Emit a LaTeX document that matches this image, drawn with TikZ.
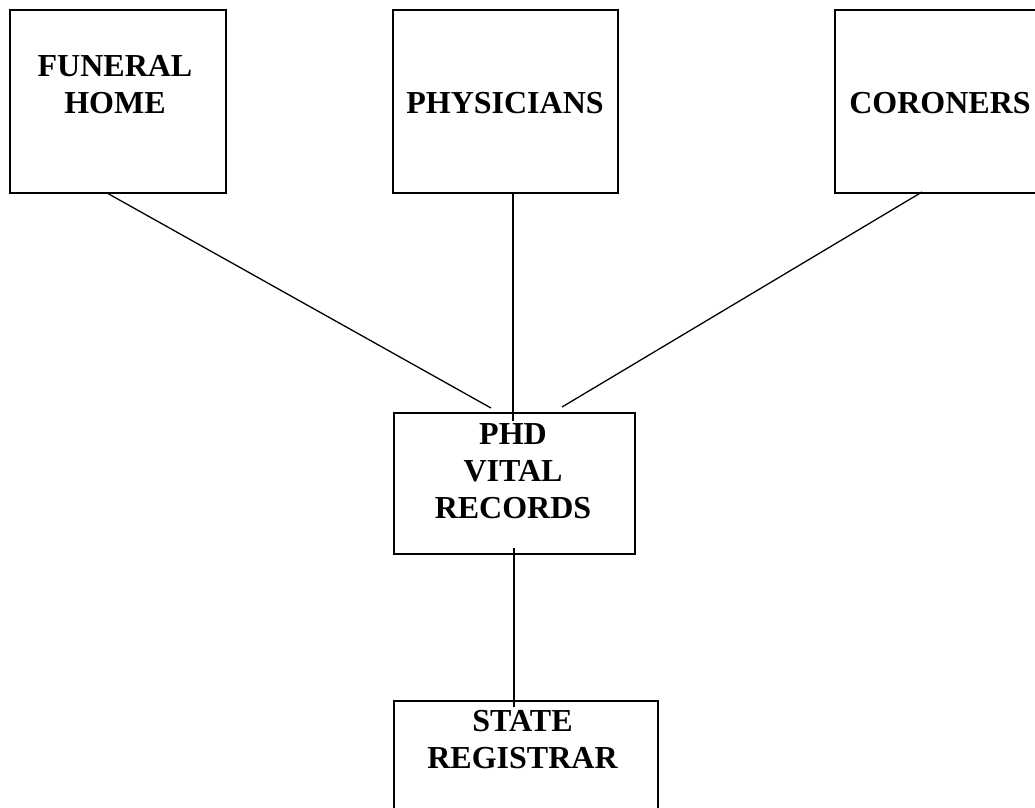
\documentclass[tikz,border=0pt]{standalone}
\usepackage{fontspec}
\setmainfont{Liberation Serif}
\begin{document}
\begin{tikzpicture}[x=1pt,y=-1pt,
  box/.style={draw, line width=1.5pt, inner sep=0pt, outer sep=0pt},
  label/.style={font=\bfseries\fontsize{32}{36.8}\selectfont, align=center, anchor=base, inner sep=0pt},
  link/.style={line width=1.3pt}]
\useasboundingbox (0,0) rectangle (1035,807);
% boxes
\node[box, minimum width=216pt, minimum height=183pt] (fh) at (118,101.5) {};
\node[box, minimum width=225pt, minimum height=183pt] (ph) at (505.5,101.5) {};
\node[box, minimum width=225pt, minimum height=183pt] (co) at (947.5,101.5) {};
\node[box, minimum width=241pt, minimum height=141pt] (phd) at (514.5,483.5) {};
\node[box, minimum width=264pt, minimum height=149pt] (st) at (526,775.5) {};
% labels (anchored at the baseline of the last line)
\node[label] (fhtext) at (115,113) {FUNERAL\\HOME};
\node[label] (phtext) at (505,113) {PHYSICIANS};
\node[label] (cotext) at (940,113) {CORONERS};
\node[label] (phdtext) at (513,518) {PHD\\VITAL\\RECORDS};
\node[label] (sttext) at (522.5,768) {STATE\\REGISTRAR};
% connectors
\draw[link] ([xshift=-11pt]fh.south) -- ([xshift=-23.5pt,yshift=5pt]phd.north);
\draw[link] ([xshift=7.5pt]ph.south) -- ([xshift=-1.5pt,yshift=-8pt]phd.north);
\draw[link] ([xshift=-25.5pt,yshift=1pt]co.south) -- ([xshift=47.5pt,yshift=6pt]phd.north);
\draw[link] ([xshift=-0.5pt,yshift=6pt]phd.south) -- ([xshift=-12pt,yshift=-6pt]st.north);
\end{tikzpicture}
\end{document}
